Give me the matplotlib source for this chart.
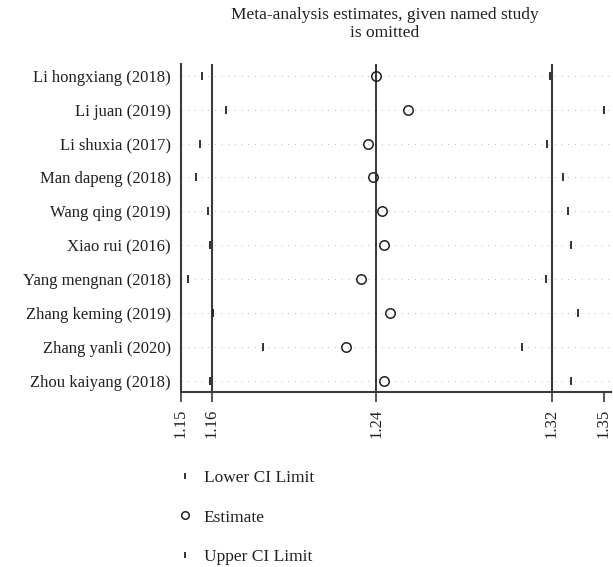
import matplotlib
matplotlib.use("Agg")
import matplotlib.pyplot as plt
from matplotlib.ticker import NullLocator

studies = ["Li hongxiang (2018)", "Li juan (2019)", "Li shuxia (2017)",
           "Man dapeng (2018)", "Wang qing (2019)", "Xiao rui (2016)",
           "Yang mengnan (2018)", "Zhang keming (2019)", "Zhang yanli (2020)",
           "Zhou kaiyang (2018)"]
lower = [1.1592, 1.1698, 1.1584, 1.1567, 1.1620, 1.1630, 1.1532, 1.1640, 1.1866, 1.1630]
estimate = [1.2382, 1.2535, 1.2344, 1.2370, 1.2411, 1.2422, 1.2314, 1.2447, 1.2243, 1.2422]
upper = [1.3225, 1.3501, 1.3210, 1.3293, 1.3316, 1.3332, 1.3205, 1.3366, 1.3087, 1.3332]
overall = [1.1636, 1.2384, 1.3235]   # lower CI, estimate, upper CI
axis_ends = [1.15, 1.35]
title = "Meta-analysis estimates, given named study\nis omitted"
legend_labels = ["Lower CI Limit", "Estimate", "Upper CI Limit"]

plt.rcParams['font.family'] = ['Liberation Serif', 'DejaVu Serif']
txt = '#231f20'
dark = '#3a3a3a'

W, H = 613, 567
fig = plt.figure(figsize=(W / 100, H / 100), dpi=100)
ax = fig.add_axes([180.7 / W, 1 - 392.3 / H, (611 - 180.7) / W, (392.3 - 64.3) / H])

rows = list(range(1, len(studies) + 1))
ax.set_xscale('log')
ax.set_xlim(axis_ends[0], 1.3536)
ax.set_ylim(len(studies) + 0.335, 0.665)

for r in rows:
    ax.axhline(r, color='#c4c4c4', lw=0.8, ls=(0, (1, 5)), zorder=1)

for v, c, lw in zip(overall, [dark, 'black', dark], [1.5, 1.1, 1.5]):
    ax.axvline(v, color=c, lw=lw, zorder=2)

hl, = ax.plot(lower, rows, ls='none', marker='|', ms=6, mew=1.3, color='#222222', zorder=3)
he, = ax.plot(estimate, rows, ls='none', marker='o', ms=6.8, mfc='none', mew=1.1,
              mec='#222222', zorder=3)
hu, = ax.plot(upper, rows, ls='none', marker='|', ms=6, mew=1.3, color='#222222', zorder=3)

ax.set_yticks(rows, labels=studies)
ax.tick_params(axis='y', length=0, pad=7, labelsize=12, labelcolor=txt)
xt = [axis_ends[0]] + overall + [axis_ends[1]]
ax.set_xticks(xt, labels=[f"{t:.2f}" for t in xt])
ax.xaxis.set_minor_locator(NullLocator())
ax.tick_params(axis='x', direction='out', length=7, width=1.2, color=dark, pad=5,
               labelsize=12, labelcolor=txt, labelrotation=90)

for s in ['top', 'right']:
    ax.spines[s].set_visible(False)
for s in ['left', 'bottom']:
    ax.spines[s].set_color(dark)
    ax.spines[s].set_linewidth(1.5)

fig.text(385 / W, 1 - 7 / H, title, ha='center', va='top', fontsize=12.5,
         color=txt, linespacing=1.2)

fig.legend([hl, he, hu], legend_labels, loc='upper left',
           bbox_to_anchor=(161 / W, 1 - 454 / H), frameon=False, fontsize=12.5,
           labelspacing=1.36, handlelength=1.0, handletextpad=0.55,
           markerscale=0.8, labelcolor=txt)

fig.savefig("out.png", dpi=100)
